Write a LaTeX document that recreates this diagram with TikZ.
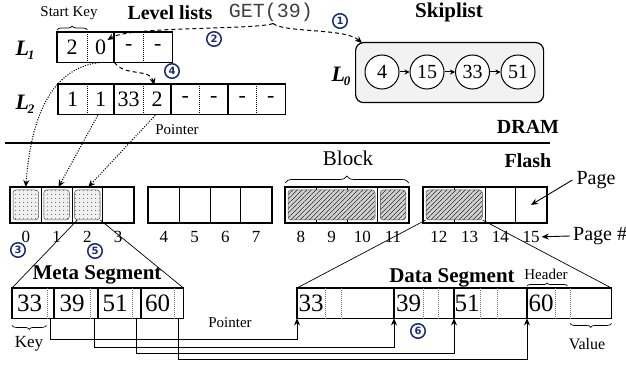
\documentclass[tikz,border=0pt]{standalone}
\usepackage{fontspec}
\setmainfont{Liberation Serif}
\setmonofont{Liberation Mono}
\newfontfamily\circfont{DejaVu Sans}
\usetikzlibrary{arrows.meta,patterns.meta,decorations.pathreplacing,calc,fit}
\definecolor{navyc}{RGB}{25,45,120}
\newcommand{\fs}[1]{\fontsize{#1}{#1}\selectfont}
\newcommand{\Lab}[1]{\bfseries\itshape L\kern-1pt\raisebox{-4pt}{\fs{13}#1}}

\begin{document}
\begin{tikzpicture}[x=1pt,y=-1pt,
  cellx/.style={inner sep=0pt, anchor=north west, minimum height=30pt},
  lcell/.style={cellx, font=\fs{22}},
  scell/.style={cellx, font=\fs{25}},
  outer/.style={draw, line width=1.6pt},
  sepline/.style={line width=0.6pt, dash pattern=on 1pt off 1pt},
  gsep/.style={line width=0.6pt, dash pattern=on 1pt off 1pt, black!55},
  pagebox/.style={draw, line width=0.8pt, inner sep=0pt, anchor=north west, minimum width=30.75pt, minimum height=35pt},
  pnum/.style={font=\fs{17}, inner sep=0pt},
  dotbox/.style={draw=black!70, line width=0.5pt, rounded corners=3pt, inner sep=-3pt, preaction={fill=gray!12}, pattern={Dots[distance=4pt, radius=0.55pt]}, pattern color=black!85},
  hatchbox/.style={draw=black!70, line width=0.5pt, rounded corners=3pt, inner sep=-3pt, preaction={fill=gray!35}, pattern={Lines[angle=45, distance=3.3pt, line width=0.55pt]}, pattern color=black!85},
  cnum/.style={circle, draw=navyc, line width=1.5pt, fill=white, text=navyc, inner sep=0pt, minimum size=14.5pt, font=\circfont\bfseries\fs{10}},
  arr/.style={-{Stealth[length=7pt,width=6pt]}, line width=0.9pt},
  dasharr/.style={-{Stealth[length=7pt,width=6pt]}, line width=1pt, dash pattern=on 4pt off 3pt},
  dotarr/.style={-{Stealth[length=7pt,width=6pt]}, line width=1.1pt, dash pattern=on 1pt off 1.5pt},
  ptr/.style={-{Stealth[length=7pt,width=6pt]}, line width=0.8pt},
  bracex/.style={decorate, decoration={brace, amplitude=#1}, line width=0.7pt},
  thin link/.style={line width=0.7pt},
  lbl/.style={inner sep=0pt}
]
\useasboundingbox (0,0) rectangle (626,366);

% ---------- titles ----------
\node[lbl, font=\fs{15}] (startkey) at (69,13) {Start Key};
\node[lbl, font=\bfseries\fs{20}] (lvl) at (170,13) {Level lists};
\node[lbl, font=\ttfamily\fs{20}, text=black!75] (get) at (271,12) {GET(39)};
\node[lbl, font=\bfseries\fs{21}] (skl) at (449,12) {Skiplist};

% ---------- L1 ----------
\node[lbl, font=\fs{22}] (L1lab) at (25,50) {\Lab{1}};
\node[lcell, minimum width=30pt] (l1a) at (57,32) {2};
\node[lcell, minimum width=27pt] (l1b) at (87,32) {0};
\node[lcell, minimum width=29pt] (l1c) at (114,32) {-};
\node[lcell, minimum width=29pt] (l1d) at (143,32) {-};
\draw[outer] (l1a.north west) rectangle (l1d.south east);
\draw[outer] (l1c.north west) -- (l1c.south west);
\draw[sepline] (l1b.north west) -- (l1b.south west);
\draw[sepline] (l1d.north west) -- (l1d.south west);
\draw[bracex=4pt] ($(l1a.north west)+(0,-2)$) -- ($(l1a.north east)+(0,-2)$);

% ---------- L2 ----------
\node[lbl, font=\fs{22}] (L2lab) at (25,104) {\Lab{2}};
\foreach \nm/\x/\w/\t in {l2a/58/29/1, l2b/87/27/1, l2c/114/29/33, l2d/143/28/2, l2e/171/28/-, l2f/199/29/-, l2g/228/28/-, l2h/256/29/-}
  \node[lcell, minimum width=\w pt] (\nm) at (\x,84) {\t};
\draw[outer] (l2a.north west) rectangle (l2h.south east);
\foreach \nm in {l2c,l2e,l2g} \draw[outer] (\nm.north west) -- (\nm.south west);
\foreach \nm in {l2b,l2d,l2f,l2h} \draw[sepline] (\nm.north west) -- (\nm.south west);

% ---------- Skiplist ----------
\node[draw, rounded corners=8pt, fill=gray!10, line width=1.2pt, minimum width=188pt, minimum height=60pt, anchor=north west, inner sep=0pt] (skip) at (355,42) {};
\node[lbl, font=\fs{22}] (L0lab) at (341,76) {\Lab{0}};
\foreach \nm/\x/\t in {s4/382/4, s15/427/15, s33/472.5/33, s51/518/51}
  \node[circle, draw, line width=1pt, fill=white, minimum size=34pt, inner sep=0pt, font=\fs{20}] (\nm) at (\x,72) {\t};
\draw[-{Stealth[length=5pt,width=5pt]}, line width=1pt] (s4) -- (s15);
\draw[-{Stealth[length=5pt,width=5pt]}, line width=1pt] (s15) -- (s33);
\draw[-{Stealth[length=5pt,width=5pt]}, line width=1pt] (s33) -- (s51);

% ---------- GET arrows ----------
\coordinate (gs) at ($(get.south)+(2,2)$);
\coordinate (t2) at ($(l1b.north east)+(-7,8)$);
\coordinate (t1) at ($(skip.north west)+(7,1)$);
\draw[dasharr] (gs) .. controls (255,30) and (130,26) .. (t2);
\draw[dasharr] (gs) .. controls (285,33) and (345,28) .. (t1);
\coordinate (t4) at ($(l2d.north)+(-3,1)$);
\draw[dasharr] (l1b.south east) .. controls (125,77) and (150,68) .. (t4);

% ---------- DRAM / Flash ----------
\node[lbl, font=\fs{15}] (ptrtop) at (177,130) {Pointer};
\node[lbl, font=\bfseries\fs{20}] (dram) at (528,127) {DRAM};
\coordinate (dl) at (5,143);
\coordinate (dr) at (550,143);
\draw[line width=2.6pt] (dl) -- (dr);
\node[lbl, font=\bfseries\fs{20}] (flash) at (528,161) {Flash};
\node[lbl, font=\fs{21}] (block) at (348,158) {Block};

\foreach \g/\gx in {0/10,1/148,2/285,3/423}
  \foreach \k in {0,...,3} {
    \pgfmathtruncatemacro\n{\g*4+\k}
    \node[pagebox] (p\n) at ({\gx+\k*30.75},187) {};
    \node[pnum] (pn\n) at ($(p\n.south)+(0,14)$) {\n};
  }
\node[dotbox, fit=(p0)] (in0) {};
\node[dotbox, fit=(p1)] (in1) {};
\node[dotbox, fit=(p2)] (in2) {};
\node[hatchbox, fit=(p8)(p10)] (h810) {};
\node[hatchbox, fit=(p11)] (h11) {};
\node[hatchbox, fit=(p12)(p13)] (h1213) {};
\draw[line width=1.8pt] (p0.north west) rectangle (p3.south east);
\draw[line width=1.8pt] (p4.north west) rectangle (p7.south east);
\draw[line width=1.8pt] (p8.north west) rectangle (p11.south east);
\draw[line width=1.8pt] (p12.north west) rectangle (p15.south east);
\draw[bracex=7pt] ($(p8.north west)+(0,-4)$) -- ($(p11.north east)+(0,-4)$);

\node[lbl, font=\fs{20}] (pagelbl) at (596,180) {Page};
\draw[arr] ($(pagelbl.west)+(-4,0)$) -- (p15.center);
\node[lbl, font=\fs{20}, anchor=west] (pagenum) at (573,236) {Page \#};
\draw[arr] ($(pagenum.west)+(-3,0)$) -- ($(pn15.east)+(2,0)$);

% dotted pointers to flash
\draw[dotarr] (l1b.south) .. controls (45,68) and (30,130) .. (p0.north);
\draw[dotarr] ($(l2b.south)+(-3,1)$) -- ($(p1.north)+(2,0)$);
\draw[dotarr] ($(l2d.south)+(-2,1)$) -- ($(p2.north)+(1,0)$);

% ---------- Meta segment ----------
\node[lbl, font=\bfseries\fs{21}] (metalbl) at (97,275) {Meta Segment};
\foreach \nm/\x/\w/\t in {mk1/12/35/33, mp1/47/7/, mk2/54/36/39, mp2/90/8/, mk3/98/34/51, mp3/132/9/, mk4/141/33/60, mp4/174/9/}
  \node[scell, minimum width=\w pt] (\nm) at (\x,288) {\t};
\draw[outer] (mk1.north west) rectangle (mp4.south east);
\foreach \nm in {mk2,mk3,mk4} \draw[outer] (\nm.north west) -- (\nm.south west);
\foreach \nm in {mp1,mp2,mp3,mp4} \draw[gsep] (\nm.north west) -- (\nm.south west);
\draw[bracex=4pt] ($(mk1.south east)+(-1,7)$) -- ($(mk1.south west)+(0,7)$);
\node[lbl, font=\fs{17}] (keylbl) at (29,344) {Key};
\node[lbl, font=\fs{15}] (ptrbot) at (230,323) {Pointer};

% ---------- Data segment ----------
\node[lbl, font=\bfseries\fs{21}] (datalbl) at (452,278) {Data Segment};
\foreach \nm/\x/\w/\t in {da1/297/28/33, db1/325/16/, dc1/341/53/, da2/394/29/39, db2/423/15/, dc2/438/16/, da3/454/26/51, db3/480/17/, dc3/497/30/, da4/527/28/60, db4/555/15/, dc4/570/41/}
  \node[scell, minimum width=\w pt] (\nm) at (\x,288) {\t};
\draw[outer] (da1.north west) rectangle (dc4.south east);
\foreach \nm in {da2,da3,da4} \draw[outer] (\nm.north west) -- (\nm.south west);
\foreach \nm in {db1,dc1,db2,dc2,db3,dc3,db4,dc4} \draw[gsep] (\nm.north west) -- (\nm.south west);
\node[lbl, font=\fs{15}] (hdrlbl) at (546,274) {Header};
\draw[bracex=3pt] ($(da4.north west)+(0,-2)$) -- ($(db4.north east)+(-3,-2)$);
\draw[bracex=4pt] ($(dc4.south east)+(0,5)$) -- ($(dc4.south west)+(0,5)$);
\node[lbl, font=\fs{16}] (vallbl) at (587,344) {Value};

% links page -> segment
\draw[thin link] ($(in2.south west)+(3,0)$) -- (mk1.north west);
\draw[thin link] (in2.south east) -- (mp4.north east);
\draw[thin link] (h1213.south west) -- (da1.north west);
\draw[thin link] (h1213.south east) -- (dc4.north east);

% pointers meta -> data
\draw[ptr] (mp1.south) -- ++(0,21) -| (da1.south west);
\draw[ptr] (mp2.south) -- ++(0,29) -| (da2.south west);
\draw[ptr] (mp3.south) -- ++(0,35) -| (da3.south west);
\draw[ptr] (mp4.south) -- ++(0,41) -| (da4.south west);

% ---------- circled step numbers ----------
\node[cnum] (n1) at (340,21) {1};
\node[cnum] (n2) at (214,39) {2};
\node[cnum] (n3) at (18,250) {3};
\node[cnum] (n4) at (172,71) {4};
\node[cnum] (n5) at (95,251) {5};
\node[cnum] (n6) at (418,331) {6};
\end{tikzpicture}
\end{document}
